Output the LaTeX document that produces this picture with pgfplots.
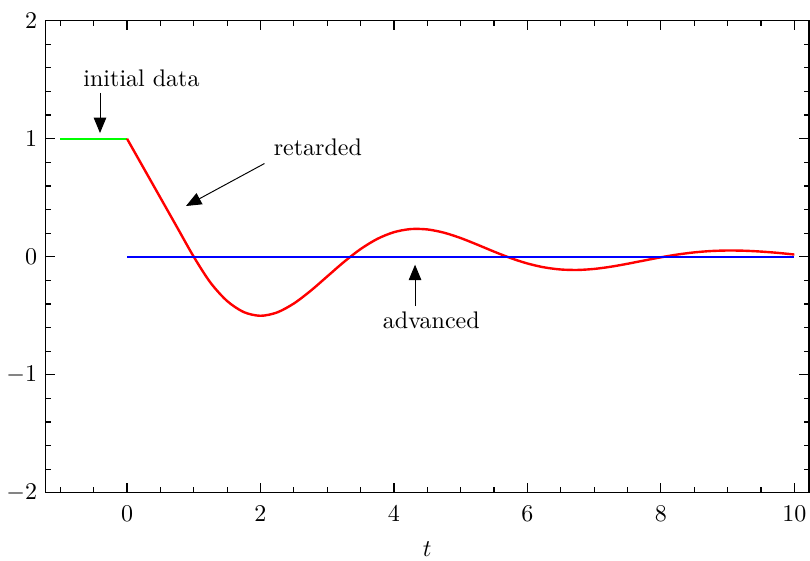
\documentclass[border=0pt]{standalone}
\usepackage{pgfplots}
\pgfplotsset{compat=1.18}
\usetikzlibrary{arrows.meta}

% x'(t) = -x(t-1), x = 1 on [-1,0]; values tabulated by the method of steps
\pgfplotstableread{
t x
0 1
0.25 0.75
0.5 0.5
0.75 0.25
1 0
1.25 -0.21875
1.5 -0.375
1.75 -0.46875
2 -0.5
2.25 -0.47135
2.5 -0.39583
2.75 -0.28906
3 -0.16667
3.25 -0.04411
3.5 0.06510
3.75 0.15120
4 0.20833
4.25 0.23453
4.5 0.23151
4.75 0.20391
5 0.15833
5.25 0.10234
5.5 0.04351
5.75 -0.01137
6 -0.05694
6.25 -0.08966
6.5 -0.10788
6.75 -0.11175
7 -0.10298
7.25 -0.08436
7.5 -0.05936
7.75 -0.03162
8 -0.00454
8.25 0.01905
8.5 0.03711
8.75 0.04850
9 0.05297
9.25 0.05106
9.5 0.04391
9.75 0.03306
10 0.01883
}\retarded

\tikzset{annarrow/.style={-{Triangle[length=6.4pt,width=5.2pt]}, line width=0.4pt, black}}

\begin{document}
\begin{tikzpicture}
\begin{axis}[
  scale only axis, width=318pt, height=196.7pt,
  xmin=-1.22, xmax=10.22, ymin=-2, ymax=2,
  xtick={0,2,4,6,8,10}, ytick={-2,-1,0,1,2},
  minor xtick={-1,-0.5,0.5,1,1.5,2.5,3,3.5,4.5,5,5.5,6.5,7,7.5,8.5,9,9.5},
  minor ytick={-1.8,-1.6,-1.4,-1.2,-0.8,-0.6,-0.4,-0.2,0.2,0.4,0.6,0.8,1.2,1.4,1.6,1.8},
  tick pos=both, tick align=inside,
  major tick length=4pt, minor tick length=2.3pt,
  axis line style={line width=0.5pt},
  every tick/.style={black, line width=0.5pt},
  xticklabel style={yshift=-2pt},
  xlabel={$t$},
  xlabel style={at={(axis description cs:0.5,0)}, anchor=base, yshift=-26.6pt},
]
\addplot[green, line width=1pt] coordinates {(-1,1) (0,1)};
\addplot[red, line width=1pt, smooth] table[x=t, y=x] {\retarded};
\addplot[blue, line width=1pt] coordinates {(0,0) (10,0)};

\node[anchor=base] at (axis cs:0.217,1.445) {initial data};
\draw[annarrow] (axis cs:-0.405,1.389) -- (axis cs:-0.405,1.048);
\node[anchor=base] at (axis cs:2.86,0.857) {retarded};
\draw[annarrow] (axis cs:2.06,0.79) -- (axis cs:0.884,0.43);
\node[anchor=base] at (axis cs:4.56,-0.608) {advanced};
\draw[annarrow] (axis cs:4.316,-0.418) -- (axis cs:4.316,-0.067);

\coordinate (sw) at (rel axis cs:0,0);
\coordinate (ne) at (rel axis cs:1,1);
\end{axis}
\pgfresetboundingbox
\path[use as bounding box] ([shift={(-19pt,-28pt)}]sw) rectangle ([shift={(0.4pt,8.6pt)}]ne);
\end{tikzpicture}
\end{document}
